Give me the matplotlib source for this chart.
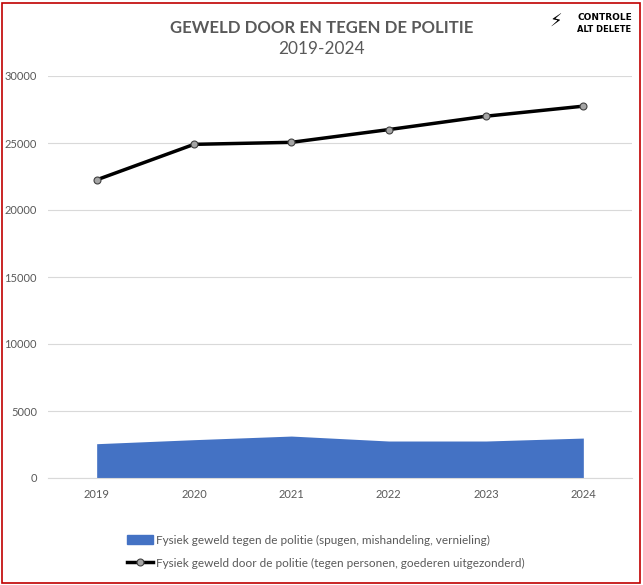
import matplotlib
matplotlib.use("Agg")
import matplotlib.pyplot as plt
from matplotlib.patches import Rectangle
from matplotlib.lines import Line2D

years = ["2019", "2020", "2021", "2022", "2023", "2024"]
geweld_tegen = [2560, 2860, 3130, 2760, 2760, 2980]
geweld_door = [22250, 24900, 25050, 26000, 27000, 27750]
yticks = [0, 5000, 10000, 15000, 20000, 25000, 30000]

plt.rcParams['font.family'] = ['Lato', 'DejaVu Sans']
gray = '#595959'

fig = plt.figure(figsize=(6.43, 5.85), dpi=100)
ax = fig.add_axes([48/643, 107/585, 584/643, 402/585])

x = list(range(len(years)))
ax.fill_between(x, 0, geweld_tegen, color='#4472C4', linewidth=0, zorder=2)
ax.plot(x, geweld_door, color='black', lw=2.5, marker='o', markersize=5,
        markerfacecolor='#A5A5A5', markeredgecolor='#404040', markeredgewidth=0.8, zorder=3)

ax.set_xlim(-0.5, len(years) - 0.5)
ax.set_ylim(0, 30000)
ax.set_xticks(x)
ax.set_xticklabels(years)
ax.set_yticks(yticks)
ax.grid(axis='y', color='#D9D9D9', lw=0.8, zorder=0)
ax.set_axisbelow(True)
for s in ['top', 'right', 'left']:
    ax.spines[s].set_visible(False)
ax.spines['bottom'].set_color('#D9D9D9')
ax.tick_params(length=0, colors=gray, labelsize=8)
ax.tick_params(axis='x', pad=8)
ax.tick_params(axis='y', pad=8)

fig.text(0.5, 1 - 28/585, 'GEWELD DOOR EN TEGEN DE POLITIE', ha='center', va='center',
         fontsize=12.1, fontweight='bold', color=gray)
fig.text(0.5, 1 - 49/585, '2019-2024', ha='center', va='center', fontsize=12.4, color=gray)

# logo
fig.text(577/643, 1 - 17/585, 'CONTROLE', ha='left', va='center', fontsize=6.5,
         fontweight='bold', color='black', family=['DejaVu Sans'])
fig.text(577/643, 1 - 29/585, 'ALT DELETE', ha='left', va='center', fontsize=6.0,
         fontweight='bold', color='black', family=['DejaVu Sans'])
fig.text(556/643, 1 - 22/585, '⚡', ha='center', va='center', fontsize=13, color='black',
         family=['DejaVu Sans'])

handles = [Rectangle((0, 0), 1, 1, color='#4472C4'),
           Line2D([], [], color='black', lw=2.5, marker='o', markersize=5,
                  markerfacecolor='#A5A5A5', markeredgecolor='#404040', markeredgewidth=0.8)]
labels = ['Fysiek geweld tegen de politie (spugen, mishandeling, vernieling)',
          'Fysiek geweld door de politie (tegen personen, goederen uitgezonderd)']
leg = fig.legend(handles, labels, loc='upper left', bbox_to_anchor=(116/643, 1 - 524/585),
                 frameon=False, fontsize=8.5, labelcolor=gray, handlelength=2.2,
                 handletextpad=0.3, labelspacing=1.0)

fig.patches.append(Rectangle((2/643, 2/585), 638/643, 580/585, transform=fig.transFigure,
                             fill=False, edgecolor='#C00000', lw=1.2))

fig.savefig('out.png', dpi=100)
